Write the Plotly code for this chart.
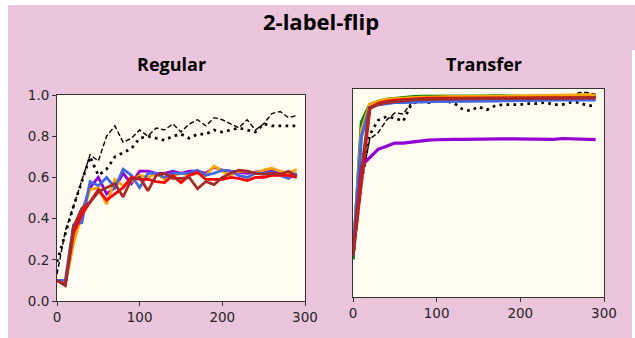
import plotly.graph_objects as go

# Training iterations (shared by every curve)
steps = list(range(0, 300, 10))

# ---- Regular training ----
reg_dashed = [0.13, 0.34, 0.46, 0.59, 0.71, 0.68, 0.80, 0.85, 0.77, 0.79,
              0.83, 0.80, 0.84, 0.83, 0.86, 0.82, 0.86, 0.88, 0.85, 0.89,
              0.88, 0.86, 0.84, 0.88, 0.83, 0.86, 0.91, 0.92, 0.89, 0.90]
reg_dotted = [0.19, 0.33, 0.46, 0.58, 0.70, 0.61, 0.64, 0.70, 0.72, 0.74,
              0.79, 0.80, 0.79, 0.78, 0.80, 0.81, 0.79, 0.81, 0.81, 0.83,
              0.82, 0.83, 0.84, 0.83, 0.82, 0.86, 0.85, 0.85, 0.85, 0.85]
reg_purple = [0.10, 0.08, 0.33, 0.43, 0.55, 0.60, 0.52, 0.55, 0.62, 0.57,
              0.63, 0.63, 0.62, 0.62, 0.63, 0.62, 0.63, 0.63, 0.62, 0.65,
              0.635, 0.63, 0.625, 0.62, 0.625, 0.63, 0.63, 0.62, 0.62, 0.615]
reg_orange = [0.10, 0.08, 0.28, 0.42, 0.54, 0.55, 0.47, 0.59, 0.56, 0.58,
              0.61, 0.60, 0.62, 0.59, 0.61, 0.62, 0.61, 0.62, 0.61, 0.655,
              0.63, 0.61, 0.63, 0.63, 0.62, 0.635, 0.645, 0.63, 0.62, 0.64]
reg_blue = [0.10, 0.10, 0.37, 0.38, 0.58, 0.56, 0.60, 0.55, 0.64, 0.61,
            0.55, 0.62, 0.62, 0.60, 0.62, 0.62, 0.62, 0.635, 0.61, 0.62,
            0.635, 0.63, 0.61, 0.60, 0.62, 0.62, 0.625, 0.61, 0.595, 0.62]
reg_red = [0.10, 0.08, 0.33, 0.42, 0.48, 0.54, 0.49, 0.52, 0.55, 0.60,
           0.59, 0.59, 0.58, 0.575, 0.61, 0.575, 0.61, 0.625, 0.59, 0.59,
           0.59, 0.60, 0.595, 0.585, 0.60, 0.60, 0.61, 0.61, 0.61, 0.60]
reg_brown = [0.10, 0.075, 0.36, 0.45, 0.48, 0.53, 0.55, 0.57, 0.505, 0.59,
             0.60, 0.535, 0.61, 0.62, 0.595, 0.595, 0.60, 0.545, 0.58, 0.565,
             0.60, 0.62, 0.635, 0.63, 0.62, 0.615, 0.62, 0.615, 0.63, 0.605]

# ---- Transfer training ----
tr_dashed = [0.20, 0.55, 0.76, 0.79, 0.85, 0.885, 0.88, 0.935, 0.945, 0.945,
             0.95, 0.945, 0.945, 0.945, 0.95, 0.95, 0.945, 0.955, 0.955, 0.95,
             0.955, 0.955, 0.96, 0.955, 0.95, 0.95, 0.955, 0.983, 0.983, 0.975]
tr_dotted = [0.19, 0.55, 0.78, 0.85, 0.867, 0.86, 0.845, 0.93, 0.94, 0.935,
             0.94, 0.94, 0.935, 0.905, 0.895, 0.915, 0.90, 0.92, 0.925, 0.925,
             0.925, 0.93, 0.93, 0.935, 0.925, 0.925, 0.935, 0.935, 0.92, 0.92]
tr_green = [0.18, 0.84, 0.925, 0.94, 0.95, 0.955, 0.96, 0.962, 0.965, 0.965,
            0.965, 0.963, 0.965, 0.965, 0.964, 0.965, 0.966, 0.967, 0.966, 0.965,
            0.966, 0.965, 0.966, 0.967, 0.966, 0.965, 0.966, 0.967, 0.966, 0.965]
tr_orange = [0.20, 0.80, 0.925, 0.94, 0.95, 0.953, 0.955, 0.958, 0.96, 0.96,
             0.962, 0.962, 0.963, 0.963, 0.964, 0.964, 0.963, 0.964, 0.965, 0.965,
             0.966, 0.966, 0.967, 0.967, 0.968, 0.968, 0.969, 0.972, 0.972, 0.97]
tr_blue = [0.20, 0.77, 0.91, 0.925, 0.93, 0.935, 0.935, 0.937, 0.938, 0.938,
           0.94, 0.94, 0.94, 0.94, 0.941, 0.942, 0.942, 0.943, 0.944, 0.944,
           0.945, 0.945, 0.946, 0.946, 0.947, 0.947, 0.948, 0.948, 0.948, 0.948]
tr_purple = [0.20, 0.63, 0.67, 0.71, 0.725, 0.74, 0.74, 0.745, 0.752, 0.754,
             0.756, 0.758, 0.758, 0.758, 0.759, 0.758, 0.758, 0.760, 0.760, 0.760,
             0.760, 0.759, 0.760, 0.759, 0.758, 0.762, 0.760, 0.758, 0.757, 0.757]
tr_red = [0.20, 0.56, 0.905, 0.93, 0.94, 0.945, 0.948, 0.95, 0.952, 0.955,
          0.955, 0.955, 0.956, 0.955, 0.956, 0.956, 0.957, 0.957, 0.957, 0.957,
          0.957, 0.957, 0.958, 0.958, 0.957, 0.958, 0.958, 0.958, 0.958, 0.958]
tr_brown = [0.20, 0.60, 0.91, 0.925, 0.935, 0.94, 0.945, 0.948, 0.95, 0.951,
            0.952, 0.952, 0.953, 0.953, 0.954, 0.954, 0.955, 0.955, 0.955, 0.955,
            0.956, 0.956, 0.956, 0.957, 0.957, 0.957, 0.957, 0.958, 0.958, 0.958]

W, H = 635, 338
PINK = "#EBC5DC"
CREAM = "#FFFBF1"
AXIS = "#333333"
TICK_FONT = dict(family="DejaVu Sans", size=13.5, color="#262626")


def px_x(p):
    return p / W


def px_y(p):
    return 1 - p / H


fig = go.Figure()


def add_curves(xa, ya, dashed, dotted, colored, width):
    fig.add_trace(go.Scatter(x=steps, y=dashed, mode="lines", xaxis=xa, yaxis=ya,
                             line=dict(color="black", width=1.4, dash="5px,2.5px")))
    fig.add_trace(go.Scatter(x=steps, y=dotted, mode="lines", xaxis=xa, yaxis=ya,
                             line=dict(color="black", width=2.7, dash="2.7px,4.3px")))
    for ys, col in colored:
        fig.add_trace(go.Scatter(x=steps, y=ys, mode="lines", xaxis=xa, yaxis=ya,
                                 line=dict(color=col, width=width)))


add_curves("x", "y", reg_dashed, reg_dotted,
           [(reg_purple, "#9400D3"), (reg_orange, "#FFA500"), (reg_blue, "#4169E1"),
            (reg_red, "#FF0000"), (reg_brown, "#A52A2A")], 2.8)
add_curves("x2", "y2", tr_dashed, tr_dotted,
           [(tr_green, "#008000"), (tr_orange, "#FFA500"), (tr_blue, "#4169E1"),
            (tr_purple, "#9400D3"), (tr_red, "#FF0000"), (tr_brown, "#A52A2A")], 3.2)

common_x = dict(range=[0, 300], tickvals=[0, 100, 200, 300], ticks="outside",
                ticklen=4, tickwidth=1, tickcolor=AXIS, showline=True, linecolor=AXIS,
                linewidth=1, mirror=True, showgrid=False, zeroline=False,
                tickfont=TICK_FONT, automargin=False)

fig.update_layout(
    width=W, height=H,
    margin=dict(l=0, r=0, t=0, b=0, pad=0),
    paper_bgcolor=PINK,
    plot_bgcolor=CREAM,
    showlegend=False,
    xaxis=dict(domain=[px_x(57), px_x(305)], anchor="y", **common_x),
    yaxis=dict(domain=[px_y(301), px_y(95)], anchor="x", range=[0, 1],
               tickvals=[0, 0.2, 0.4, 0.6, 0.8, 1.0], tickformat=".1f",
               ticks="outside", ticklen=4, tickwidth=1, tickcolor=AXIS,
               showline=True, linecolor=AXIS, linewidth=1, mirror=True,
               showgrid=False, zeroline=False, tickfont=TICK_FONT, automargin=False),
    xaxis2=dict(domain=[px_x(353), px_x(604)], anchor="y2", **common_x),
    yaxis2=dict(domain=[px_y(297), px_y(89)], anchor="x2", range=[0, 1],
                showticklabels=False, ticks="", showline=True, linecolor=AXIS,
                linewidth=1, mirror=True, showgrid=False, zeroline=False,
                automargin=False),
)

# white page edges around the pink card
edges = [(0, 0, 8, H), (0, 0, W, 5), (632, 50, W, H)]
for x0, y0, x1, y1 in edges:
    fig.add_shape(type="rect", xref="paper", yref="paper",
                  x0=px_x(x0), x1=px_x(x1), y0=px_y(y1), y1=px_y(y0),
                  fillcolor="white", line=dict(width=0), layer="above")

titles = [("2-label-flip", 321, 21, 22), ("Regular", 171, 64, 18), ("Transfer", 484, 64, 18)]
for text, cx, cy, size in titles:
    fig.add_annotation(text=f"<b>{text}</b>", xref="paper", yref="paper",
                       x=px_x(cx), y=px_y(cy), xanchor="center", yanchor="middle",
                       showarrow=False,
                       font=dict(family="Open Sans", size=size, color="black"))

fig.write_html("out.html")
